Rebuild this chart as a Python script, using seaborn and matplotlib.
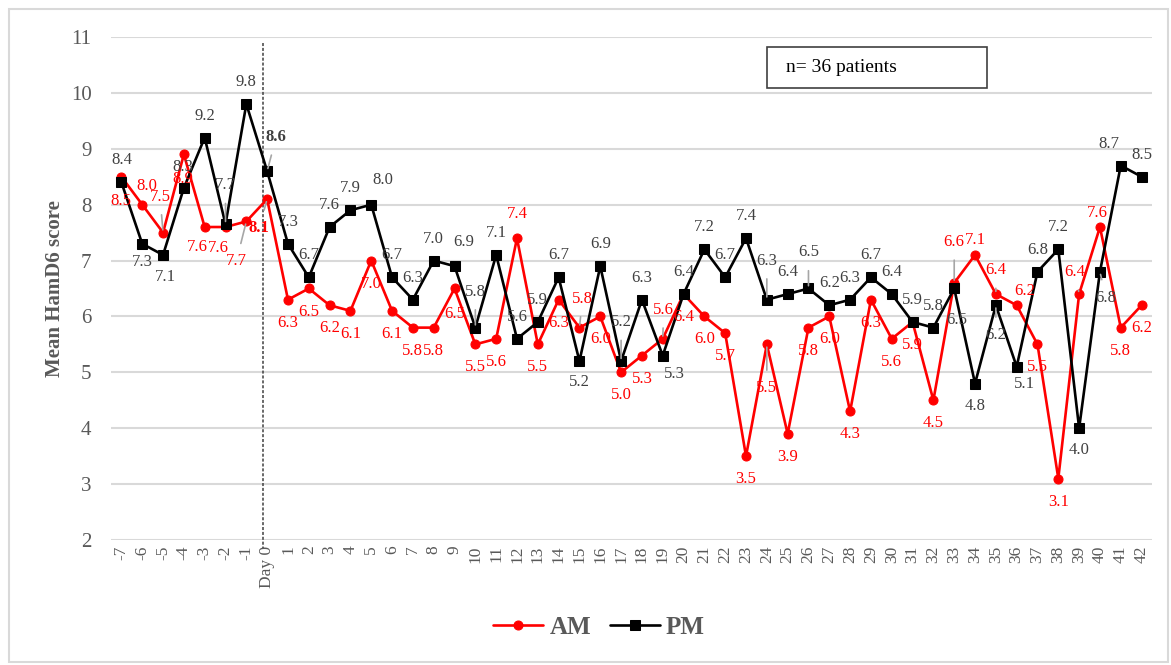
import matplotlib
matplotlib.use("Agg")
import matplotlib.pyplot as plt
import matplotlib.patches as mpatches
import seaborn as sns
import pandas as pd
import numpy as np

# ---------------- data ----------------
days = ["-7", "-6", "-5", "-4", "-3", "-2", "-1", "Day 0"] + [str(i) for i in range(1, 43)]
am_scores = [8.5, 8.0, 7.5, 8.9, 7.6, 7.6, 7.7, 8.1,
             6.3, 6.5, 6.2, 6.1, 7.0, 6.1, 5.8, 5.8, 6.5, 5.5,
             5.6, 7.4, 5.5, 6.3, 5.8, 6.0, 5.0, 5.3, 5.6, 6.4,
             6.0, 5.7, 3.5, 5.5, 3.9, 5.8, 6.0, 4.3, 6.3, 5.6,
             5.9, 4.5, 6.6, 7.1, 6.4, 6.2, 5.5, 3.1, 6.4, 7.6,
             5.8, 6.2]
pm_scores = [8.4, 7.3, 7.1, 8.3, 9.2, 7.65, 9.8, 8.6,
             7.3, 6.7, 7.6, 7.9, 8.0, 6.7, 6.3, 7.0, 6.9, 5.8,
             7.1, 5.6, 5.9, 6.7, 5.2, 6.9, 5.2, 6.3, 5.3, 6.4,
             7.2, 6.7, 7.4, 6.3, 6.4, 6.5, 6.2, 6.3, 6.7, 6.4,
             5.9, 5.8, 6.5, 4.8, 6.2, 5.1, 6.8, 7.2, 4.0, 6.8,
             8.7, 8.5]
y_ticks = list(range(2, 12))
note_text = "n= 36 patients"
series_names = ["AM", "PM"]

# ---------------- style ----------------
sns.set_theme(style="white")
SERIF = ["Liberation Serif", "DejaVu Serif"]
plt.rcParams["font.family"] = SERIF
GRAY = "#595959"
RED = "#FF0000"

W, H = 1171, 665
fig = plt.figure(figsize=(W / 100, H / 100), dpi=100)
ax = fig.add_axes([111 / W, 1 - 540 / H, (1152 - 111) / W, (540 - 37) / H])

pos = np.arange(len(days))
df = pd.DataFrame({"pos": np.concatenate([pos, pos]),
                   "score": am_scores + pm_scores,
                   "session": [series_names[0]] * len(days) + [series_names[1]] * len(days)})

sns.lineplot(data=df[df.session == "AM"], x="pos", y="score", color=RED, marker="o",
             markersize=6.5, markeredgecolor=RED, linewidth=1.9, ax=ax, label="AM", zorder=3)
sns.lineplot(data=df[df.session == "PM"], x="pos", y="score", color="black", marker="s",
             markersize=7.5, markeredgecolor="black", linewidth=1.9, ax=ax, label="PM", zorder=4)

ax.set_xlim(-0.5, len(days) - 0.5)
ax.set_ylim(2, 11)
ax.set_yticks(y_ticks)
ax.set_yticklabels([str(v) for v in y_ticks], fontsize=15, color=GRAY)
ax.set_xticks(pos)
ax.set_xticklabels(days, rotation=90, fontsize=12.5, color=GRAY)
ax.tick_params(axis="both", length=0)
ax.tick_params(axis="y", pad=14)
ax.tick_params(axis="x", pad=4)
for s in ax.spines.values():
    s.set_visible(False)
ax.yaxis.grid(True, color="#D9D9D9", linewidth=1.5)
ax.xaxis.grid(False)
ax.set_axisbelow(True)
ax.set_xlabel("")
ax.set_ylabel("Mean HamD6 score", fontsize=15, fontweight="bold", color=GRAY, labelpad=4)

# dashed Day 0 line
d0 = days.index("Day 0") - 0.18
ax.plot([d0, d0], [11 - 0.1, 2 - 0.15], linestyle=(0, (2, 1.2)), color="#404040",
        linewidth=1.1, clip_on=False, zorder=2)

# ---------------- data labels ----------------
# offsets in pixels (dx, dy), dy positive = up ; leader lines flagged
am_default = (0, -23)
pm_default = (0, 22)
am_off = {0: (-1, -24), 1: (5, 19), 2: (-3, 36), 3: (-1, -25), 4: (-7, -20), 5: (-7, -21),
          6: (-10, -40), 7: (-8, -29), 16: (0, -25), 19: (0, 24), 22: (3, 29), 26: (1, 29),
          31: (0, -44), 40: (0, 41), 41: (0, 15), 42: (0, 24), 43: (8, 14), 46: (-4, 22),
          47: (-3, 14)}
am_lead = {2, 6, 7, 26, 22, 31, 40, 42, 46}
pm_off = {1: (0, -18), 2: (2, -22), 3: (-1, 21), 5: (0, 39), 7: (9, 34), 12: (12, 25),
          16: (9, 24), 17: (0, 36), 22: (0, -21), 24: (0, 39), 26: (12, -18), 31: (0, 39),
          33: (0, 36), 40: (3, -31), 41: (0, -22), 42: (0, -30), 43: (8, -17), 46: (0, -22),
          47: (6, -26), 48: (-12, 22)}
pm_lead = {5, 7, 17, 24, 31, 33, 42, 47}
bold_idx = {days.index("Day 0")}

def put_labels(vals, offs, default, leads, color):
    for i, v in enumerate(vals):
        dx, dy = offs.get(i, default)
        kw = dict(textcoords="offset pixels", ha="center", va="center", fontsize=12,
                  color=color, zorder=6,
                  fontweight="bold" if i in bold_idx else "normal")
        if i in leads:
            kw["arrowprops"] = dict(arrowstyle="-", color="#A6A6A6", lw=1.2,
                                    shrinkA=5, shrinkB=2)
        ax.annotate(f"{v:.1f}", xy=(i, v), xytext=(dx, dy), **kw)

put_labels(am_scores, am_off, am_default, am_lead, RED)
put_labels(pm_scores, pm_off, pm_default, pm_lead, "#404040")

# note box
fig.text(786 / W, 1 - 68 / H, note_text, fontsize=14, color="black", ha="left", va="center")
fig.patches.append(mpatches.Rectangle((767 / W, 1 - 88 / H), (987 - 767) / W, (88 - 47) / H,
                                      transform=fig.transFigure, fill=False,
                                      edgecolor="#404040", linewidth=1.2))

# legend
if ax.legend_:
    ax.legend_.remove()
handles, labels = ax.get_legend_handles_labels()
leg = fig.legend(handles, labels, loc="center", bbox_to_anchor=(599 / W, 1 - 627 / H),
                 ncol=2, frameon=False, handlelength=2.0, columnspacing=0.75,
                 handletextpad=0.25, prop={"family": SERIF, "weight": "bold", "size": 18})
for t in leg.get_texts():
    t.set_color(GRAY)

# outer border
fig.patches.append(mpatches.Rectangle((9 / W, 3 / H), (1168 - 9) / W, (656 - 3) / H,
                                      transform=fig.transFigure, fill=False,
                                      edgecolor="#D9D9D9", linewidth=1.5))

fig.savefig("out.png", dpi=100)
